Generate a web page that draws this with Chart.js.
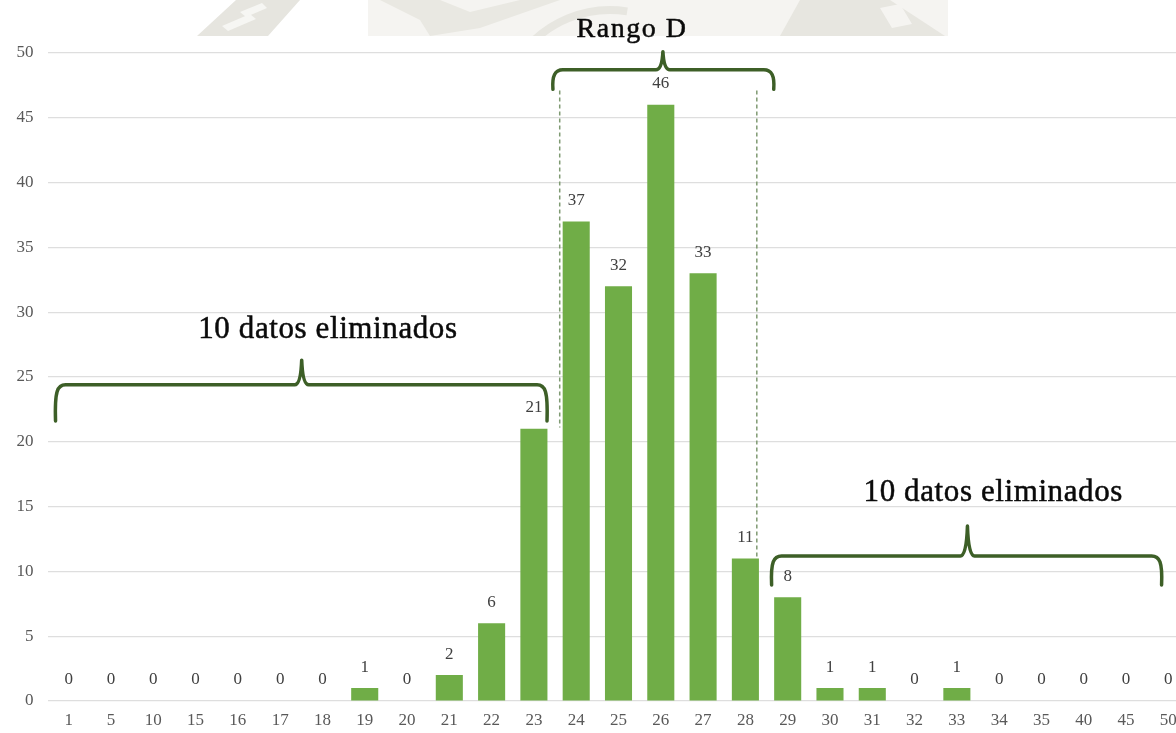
<!DOCTYPE html>
<html>
<head>
<meta charset="utf-8">
<script src="https://cdn.jsdelivr.net/npm/chart.js@4/dist/chart.umd.min.js"></script>
<style>
  html, body { margin: 0; padding: 0; background: #ffffff; overflow: hidden; }
  #wrap { position: relative; width: 1200px; height: 733px; }
</style>
</head>
<body>
<div id="wrap"><canvas id="chart" width="1200" height="733"></canvas></div>
<script>
// Categories along the x axis
const categories = ['1','5','10','15','16','17','18','19','20','21','22','23','24','25','26','27','28','29','30','31','32','33','34','35','40','45','50'];
// Frequency per category
const frequencies = [0,0,0,0,0,0,0,1,0,2,6,21,37,32,46,33,11,8,1,1,0,1,0,0,0,0,0];
// Y axis ticks
const yTicks = [0,5,10,15,20,25,30,35,40,45,50];
// Annotation texts
const rangeTitle = 'Rango D';
const trimmedText = '10 datos eliminados';

const SERIF = '"Liberation Serif", "Times New Roman", serif';
const BRACE_COLOR = '#3d5f27';

// Faint seal printed across the top strip of the page
const sealPlugin = {
  id: 'seal',
  beforeDraw(chart) {
    const ctx = chart.ctx;
    ctx.save();
    ctx.beginPath();
    ctx.rect(0, 0, chart.width, 36);
    ctx.clip();
    ctx.fillStyle = '#f5f4f1';
    ctx.fillRect(368, 0, 580, 36);
    ctx.fillStyle = '#e6e5df';
    // left slanted band
    ctx.beginPath();
    ctx.moveTo(197, 36); ctx.lineTo(236, 0); ctx.lineTo(300, 0); ctx.lineTo(268, 36);
    ctx.closePath(); ctx.fill();
    ctx.fillStyle = '#f6f6f3';
    ctx.beginPath();
    ctx.moveTo(222, 26); ctx.lineTo(250, 14); ctx.lineTo(256, 19); ctx.lineTo(228, 31);
    ctx.closePath(); ctx.fill();
    ctx.beginPath();
    ctx.moveTo(240, 12); ctx.lineTo(262, 3); ctx.lineTo(267, 8); ctx.lineTo(246, 17);
    ctx.closePath(); ctx.fill();
    // star-like shape
    ctx.fillStyle = '#e9e8e2';
    ctx.beginPath();
    ctx.moveTo(380, 0); ctx.lineTo(440, 0); ctx.lineTo(470, 12); ctx.lineTo(520, 0);
    ctx.lineTo(560, 0); ctx.lineTo(480, 28); ctx.lineTo(430, 36); ctx.lineTo(420, 20);
    ctx.closePath(); ctx.fill();
    // arcs on the right of the seal
    ctx.strokeStyle = '#e7e6e0';
    ctx.lineWidth = 8;
    ctx.beginPath();
    ctx.arc(610, 120, 110, Math.PI * 1.2, Math.PI * 1.55);
    ctx.stroke();
    ctx.fillStyle = '#e7e6e0';
    ctx.beginPath();
    ctx.moveTo(780, 36); ctx.lineTo(800, 0); ctx.lineTo(890, 0); ctx.lineTo(945, 36);
    ctx.closePath(); ctx.fill();
    ctx.fillStyle = '#f5f4f1';
    ctx.beginPath();
    ctx.moveTo(880, 8); ctx.lineTo(900, 4); ctx.lineTo(912, 24); ctx.lineTo(892, 28);
    ctx.closePath(); ctx.fill();
    ctx.restore();
  }
};

// Value labels above each bar
const valueLabels = {
  id: 'valueLabels',
  afterDatasetsDraw(chart) {
    const ctx = chart.ctx;
    const meta = chart.getDatasetMeta(0);
    ctx.save();
    ctx.font = '17px ' + SERIF;
    ctx.fillStyle = '#404040';
    ctx.textAlign = 'center';
    ctx.textBaseline = 'middle';
    meta.data.forEach((bar, i) => {
      ctx.fillText(String(frequencies[i]), bar.x, bar.y - 21);
    });
    ctx.restore();
  }
};

// Braces, dashed range limits and their captions
const annotations = {
  id: 'annotations',
  afterDraw(chart) {
    const ctx = chart.ctx;
    const xs = chart.scales.x, ys = chart.scales.y;
    const X = v => xs.getPixelForValue(v);
    const Y = v => ys.getPixelForValue(v);

    function brace(xl, xr, xm, yh, yb, yt) {
      const r = 10;
      ctx.beginPath();
      ctx.moveTo(xl, yb);
      ctx.bezierCurveTo(xl - 1, yh + 6, xl + 2, yh, xl + r, yh);
      ctx.lineTo(xm - 7, yh);
      ctx.quadraticCurveTo(xm - 1, yh, xm, yt);
      ctx.quadraticCurveTo(xm + 1, yh, xm + 7, yh);
      ctx.lineTo(xr - r, yh);
      ctx.bezierCurveTo(xr - 2, yh, xr + 1, yh + 6, xr, yb);
      ctx.stroke();
    }

    function caption(text, x, y) {
      ctx.fillText(text, x, y);
      ctx.strokeText(text, x, y);
    }

    ctx.save();
    // dashed limits of the range
    ctx.strokeStyle = '#7f9a72';
    ctx.lineWidth = 1.5;
    ctx.setLineDash([4, 3]);
    ctx.beginPath();
    ctx.moveTo(X(11.61), Y(47.1)); ctx.lineTo(X(11.61), Y(21.1));
    ctx.moveTo(X(16.27), Y(47.1)); ctx.lineTo(X(16.27), Y(11.1));
    ctx.stroke();
    ctx.setLineDash([]);

    ctx.strokeStyle = BRACE_COLOR;
    ctx.lineWidth = 3.5;
    ctx.lineCap = 'round';
    ctx.lineJoin = 'round';
    brace(X(11.45), X(16.67), X(14.05), Y(48.7), Y(47.2), Y(50.1));
    brace(X(-0.31), X(11.31), X(5.51), Y(24.4), Y(21.6), Y(26.3));
    brace(X(16.62), X(25.84), X(21.25), Y(11.19), Y(8.95), Y(13.5));

    ctx.fillStyle = '#0a0a0a';
    ctx.strokeStyle = '#0a0a0a';
    ctx.lineWidth = 0.5;
    ctx.textAlign = 'center';
    ctx.textBaseline = 'alphabetic';
    ctx.font = '28px ' + SERIF;
    ctx.letterSpacing = '1.5px';
    caption(rangeTitle, X(13.32), Y(51.2));
    ctx.font = '31px ' + SERIF;
    ctx.letterSpacing = '0.6px';
    caption(trimmedText, X(6.13), Y(28.0));
    caption(trimmedText, X(21.86), Y(15.45));
    ctx.restore();
  }
};

new Chart(document.getElementById('chart'), {
  type: 'bar',
  data: {
    labels: categories,
    datasets: [{
      data: frequencies,
      backgroundColor: '#70AD47',
      borderWidth: 0,
      barPercentage: 0.64,
      categoryPercentage: 1.0
    }]
  },
  options: {
    responsive: false,
    devicePixelRatio: 1,
    animation: false,
    layout: { padding: { top: 53, right: 10.5, left: 0, bottom: 0 } },
    plugins: { legend: { display: false }, tooltip: { enabled: false } },
    scales: {
      x: {
        offset: true,
        grid: { display: false, drawTicks: false },
        border: { display: false },
        ticks: { color: '#595959', font: { family: SERIF, size: 17 }, padding: 9, maxRotation: 0, autoSkip: false },
        afterFit(scale) { scale.height = 32; }
      },
      y: {
        min: 0, max: 50,
        afterBuildTicks(scale) { scale.ticks = yTicks.map(v => ({ value: v })); },
        grid: { color: '#dedede', lineWidth: 1.2, drawTicks: false },
        border: { display: false },
        ticks: { color: '#595959', font: { family: SERIF, size: 17 }, padding: 14 },
        afterFit(scale) { scale.width = 47.5; }
      }
    }
  },
  plugins: [sealPlugin, valueLabels, annotations]
});
</script>
</body>
</html>
